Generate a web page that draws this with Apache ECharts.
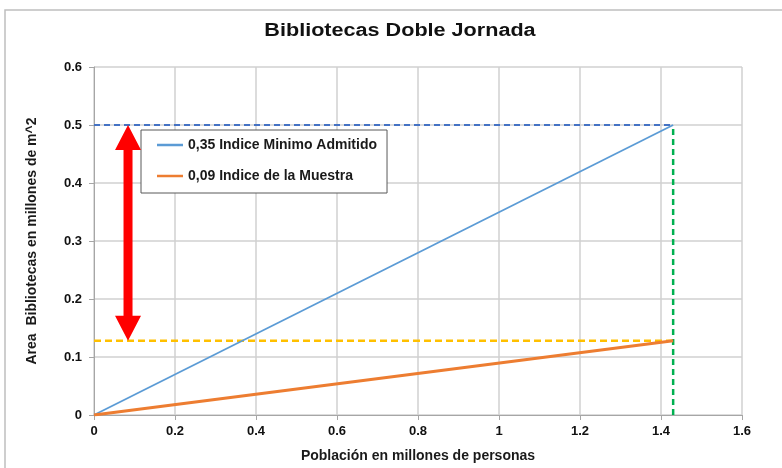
<!DOCTYPE html>
<html>
<head>
<meta charset="utf-8">
<script src="https://cdn.jsdelivr.net/npm/echarts@6/dist/echarts.min.js"></script>
<style>
  html, body { margin: 0; padding: 0; background: #fff; }
  #chart { width: 782px; height: 468px; }
</style>
</head>
<body>
<div id="chart"></div>
<script>
// datos
var poblacion = 1.43;            // millones de personas
var areaMinima = 0.5;            // millones de m^2 (0,35 x 1,43)
var areaMuestra = 0.128;         // millones de m^2 (0,09 x 1,43)
var minimoPts = [[0, 0], [poblacion, areaMinima]];
var muestraPts = [[0, 0], [poblacion, areaMuestra]];
var guiaMinima = [[0, areaMinima], [poblacion, areaMinima]];
var guiaMuestra = [[0, areaMuestra], [poblacion, areaMuestra]];
var guiaVertical = [[poblacion, 0], [poblacion, areaMinima]];
var flecha = [[0.084, areaMuestra, areaMinima]];
var xTicks = [0, 0.2, 0.4, 0.6, 0.8, 1, 1.2, 1.4, 1.6];
var yTicks = [0, 0.1, 0.2, 0.3, 0.4, 0.5, 0.6];

var font = "'Liberation Sans', Arial, sans-serif";
var chart = echarts.init(document.getElementById("chart"));

chart.setOption({
  animation: false,
  textStyle: { fontFamily: font },
  graphic: [
    {
      type: "rect",
      shape: { x: 5, y: 10, width: 800, height: 500 },
      style: { fill: "none", stroke: "#bfbfbf", lineWidth: 1.5 },
      silent: true
    },
    {
      // titulo (un poco ensanchado como en el original)
      type: "text",
      x: 400,
      y: 31,
      scaleX: 1.2,
      style: {
        text: "Bibliotecas Doble Jornada",
        font: "bold 18px " + font,
        fill: "#111",
        align: "center",
        verticalAlign: "middle"
      },
      silent: true
    }
  ],
  legend: {
    orient: "vertical",
    left: 141,
    top: 130,
    data: [
      { name: "0,35 Indice Minimo Admitido", icon: "rect" },
      { name: "0,09 Indice de la Muestra", icon: "rect" }
    ],
    itemWidth: 26,
    itemHeight: 2.5,
    itemGap: 15,
    padding: [7, 10, 9, 16],
    borderColor: "#595959",
    borderWidth: 1,
    backgroundColor: "#fff",
    textStyle: { fontSize: 14, fontWeight: "bold", color: "#1a1a1a", fontFamily: font, lineHeight: 16 }
  },
  grid: { left: 94, right: 40, top: 67, bottom: 49 },
  xAxis: {
    type: "value",
    min: xTicks[0],
    max: xTicks[xTicks.length - 1],
    interval: 0.2,
    name: "Población en millones de personas",
    nameLocation: "middle",
    nameGap: 34,
    nameTextStyle: { fontSize: 14, fontWeight: "bold", color: "#1a1a1a" },
    axisLine: { lineStyle: { color: "#a6a6a6" } },
    axisTick: { show: true, length: 5, lineStyle: { color: "#a6a6a6" } },
    axisLabel: { fontSize: 13, fontWeight: "bold", color: "#111", margin: 10 },
    splitLine: { show: true, lineStyle: { color: "#d0d0d0", width: 1.5 } }
  },
  yAxis: {
    type: "value",
    min: yTicks[0],
    max: yTicks[yTicks.length - 1],
    interval: 0.1,
    name: "Area  Bibliotecas en millones de m^2",
    nameLocation: "middle",
    nameGap: 55,
    nameTextStyle: { fontSize: 14, fontWeight: "bold", color: "#1a1a1a" },
    axisLine: { show: true, lineStyle: { color: "#a6a6a6" } },
    axisTick: { show: true, length: 5, lineStyle: { color: "#a6a6a6" } },
    axisLabel: { fontSize: 13, fontWeight: "bold", color: "#111", margin: 12 },
    splitLine: { show: true, lineStyle: { color: "#d0d0d0", width: 1.5 } }
  },
  series: [
    {
      name: "guia minima",
      type: "line",
      data: guiaMinima,
      symbol: "none",
      lineStyle: { color: "#4472c4", width: 2, type: [6, 4] },
      z: 3
    },
    {
      name: "guia muestra",
      type: "line",
      data: guiaMuestra,
      symbol: "none",
      lineStyle: { color: "#ffc000", width: 2.5, type: [7, 4] },
      z: 3
    },
    {
      name: "guia vertical",
      type: "line",
      data: guiaVertical,
      symbol: "none",
      lineStyle: { color: "#00b050", width: 2.5, type: [6, 4] },
      z: 3
    },
    {
      name: "0,35 Indice Minimo Admitido",
      type: "line",
      data: minimoPts,
      symbol: "none",
      itemStyle: { color: "#5b9bd5" },
      lineStyle: { color: "#5b9bd5", width: 1.8 },
      z: 4
    },
    {
      name: "0,09 Indice de la Muestra",
      type: "line",
      data: muestraPts,
      symbol: "none",
      itemStyle: { color: "#ed7d31" },
      lineStyle: { color: "#ed7d31", width: 3 },
      z: 4
    },
    {
      name: "flecha",
      type: "custom",
      data: flecha,
      z: 5,
      renderItem: function (params, api) {
        var a = api.coord([api.value(0), api.value(1)]);
        var b = api.coord([api.value(0), api.value(2)]);
        var x = a[0];
        var yb = a[1]; // punta inferior
        var yt = b[1]; // punta superior
        var hw = 13, hh = 25, sw = 4.5;
        return {
          type: "polygon",
          shape: {
            points: [
              [x, yt],
              [x + hw, yt + hh],
              [x + sw, yt + hh],
              [x + sw, yb - hh],
              [x + hw, yb - hh],
              [x, yb],
              [x - hw, yb - hh],
              [x - sw, yb - hh],
              [x - sw, yt + hh],
              [x - hw, yt + hh]
            ]
          },
          style: { fill: "#ff0000" }
        };
      }
    }
  ]
});
</script>
</body>
</html>
